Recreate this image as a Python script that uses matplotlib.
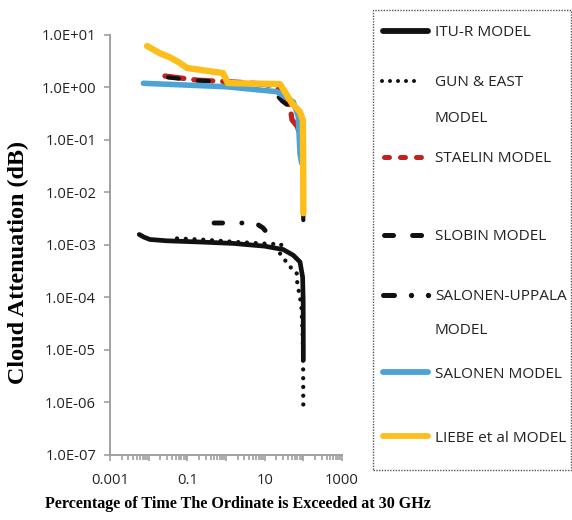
import matplotlib.pyplot as plt
from matplotlib.lines import Line2D
from matplotlib.patches import Rectangle
from matplotlib.ticker import FixedLocator, LogLocator, NullFormatter

plt.rcParams["lines.scale_dashes"] = False

W, H = 572, 520

# -- data: percentage of time (%) vs cloud attenuation (dB) -------------------
itu_x = [0.0057, 0.0075, 0.0108, 0.029, 0.2, 1.55, 10, 30.3, 55, 82, 96, 99, 99.8, 100]
itu_y = [1.57e-3, 1.4e-3, 1.26e-3, 1.19e-3, 1.13e-3, 1.06e-3, 9.4e-4, 8.1e-4,
         6.3e-4, 4.7e-4, 2.4e-4, 8.8e-5, 2e-5, 6.3e-6]

gun_x = [0.054, 0.3, 1.5, 10, 27, 25, 45, 67, 70, 82, 90, 97, 99, 100]
gun_y = [1.32e-3, 1.24e-3, 1.14e-3, 1.05e-3, 1.02e-3, 6.8e-4, 3.8e-4, 3.0e-4,
         1.8e-4, 1.0e-4, 6.0e-5, 1.5e-5, 4e-6, 6.8e-7]

staelin_x = [0.0264, 0.175, 3.43, 20, 28, 45, 51, 70, 90, 100]
staelin_y = [1.65, 1.38, 1.23, 1.1, 0.65, 0.45, 0.24, 0.18, 0.1, 0.05]

slobin_x = [0.0316, 0.2, 3.5, 20, 23, 28, 40, 60, 85, 97, 100]
slobin_y = [1.55, 1.35, 1.22, 1.05, 0.65, 0.55, 0.45, 0.3, 0.2, 0.05, 0.0025]

su_x = [0.49, 1.0, 3.0, 6.0, 9.0, 11.1]
su_y = [2.6e-3, 2.6e-3, 2.6e-3, 2.55e-3, 2.1e-3, 1.75e-3]

salonen_x = [0.0073, 1.04, 20.5, 55, 74, 82, 90.6]
salonen_y = [1.2, 1.03, 0.83, 0.53, 0.28, 0.055, 0.036]

liebe_x = [0.0091, 0.0196, 0.0357, 0.0646, 0.098, 0.835, 1.12, 24.9, 33.5,
           50.9, 81.9, 97, 99, 100]
liebe_y = [6.17, 4.48, 3.75, 2.92, 2.35, 1.88, 1.21, 1.16, 0.82,
           0.5, 0.34, 0.24, 0.05, 0.004]

x_labels = {0.001: "0.001", 0.1: "0.1", 10: "10", 1000: "1000"}
y_ticks = [10.0 ** k for k in range(-7, 2)]

BLACK = "#111111"
RED = "#C0231E"
BLUE = "#4DA3D5"
GOLD = "#FDBE1C"
GRAY = "#A0A0A0"
TXT = "Open Sans"

fig = plt.figure(figsize=(W / 100, H / 100), dpi=100)
ax = fig.add_axes([110 / W, 1 - 454.5 / H, (342 - 110) / W, (454.5 - 35) / H])

ax.plot(itu_x, itu_y, color=BLACK, lw=3.4, solid_capstyle="round")
ax.plot(gun_x, gun_y, color=BLACK, lw=3.1, linestyle=(0, (0.01, 6.3)),
        dash_capstyle="round")
ax.plot(staelin_x, staelin_y, color=RED, lw=3.8, linestyle=(0, (13.7, 7.2)),
        dash_capstyle="round")
ax.plot(slobin_x, slobin_y, color=BLACK, lw=3.0, linestyle=(0, (7.9, 13.7)),
        dash_capstyle="round")
ax.plot(su_x, su_y, color=BLACK, lw=3.5, linestyle=(0, (6.2, 13.8, 0.1, 12.3)),
        dash_capstyle="round")
ax.plot(salonen_x, salonen_y, color=BLUE, lw=4.0, solid_capstyle="round")
ax.plot(liebe_x, liebe_y, color=GOLD, lw=4.6, solid_capstyle="round",
        solid_joinstyle="round")

ax.set_xscale("log")
ax.set_yscale("log")
ax.set_xlim(0.001, 1000)
ax.set_ylim(1e-7, 10)

ax.xaxis.set_major_locator(FixedLocator([10.0 ** k for k in range(-3, 4)]))
ax.xaxis.set_minor_locator(LogLocator(base=10, subs=range(2, 10)))
ax.xaxis.set_minor_formatter(NullFormatter())
ax.set_xticklabels([x_labels.get(v, "") for v in ax.get_xticks()])
ax.set_yticks(y_ticks)
ax.yaxis.set_minor_locator(FixedLocator([]))
ax.set_yticklabels(["%.1E" % v for v in y_ticks])

for side in ["top", "right"]:
    ax.spines[side].set_visible(False)
for side in ["left", "bottom"]:
    ax.spines[side].set_color(GRAY)
    ax.spines[side].set_linewidth(1.4)
ax.tick_params(which="both", color=GRAY, width=1.2, direction="out")
ax.tick_params(axis="x", which="major", length=4, pad=9)
ax.tick_params(axis="x", which="minor", length=3.5)
ax.tick_params(axis="y", length=4, pad=6)
for lab in ax.get_xticklabels() + ax.get_yticklabels():
    lab.set_family(TXT)
    lab.set_fontsize(10.6)
    lab.set_color("#222222")

fig.text(18 / W, 1 - 262 / H, "Cloud Attenuation (dB)", rotation=90,
         family="Liberation Serif", weight="bold", fontsize=17.4,
         ha="center", va="center")
fig.text(45 / W, 1 - 504 / H, "Percentage of Time The Ordinate is Exceeded at 30 GHz",
         family="Liberation Serif", weight="bold", fontsize=11.65,
         ha="left", va="center")

# -- legend, drawn by hand in figure pixels -----------------------------------
fig.patches.append(Rectangle((373 / W, 1 - 470 / H), (570.5 - 373) / W, 460 / H,
                             transform=fig.transFigure, fill=False,
                             ec="#555555", lw=1.0, ls=(0, (1, 1))))


def handle(x0, x1, y, **kw):
    fig.lines.append(Line2D([x0 / W, x1 / W], [1 - y / H, 1 - y / H],
                            transform=fig.transFigure, **kw))


def label(y, text):
    fig.text(435 / W, 1 - (y + 2) / H, text, family=TXT, fontsize=11.1,
             color="#222222", ha="left", va="center")


handle(383, 428, 31, color=BLACK, lw=4.2, solid_capstyle="round")
label(31, "ITU-R MODEL")
handle(381.7, 421.8, 81, color=BLACK, lw=2.9, ls=(0, (0.01, 5.75)),
       dash_capstyle="round")
label(81, "GUN & EAST")
label(116, "MODEL")
handle(383.5, 420.5, 157, color=RED, lw=3.6, ls=(0, (3.6, 7.9)),
       dash_capstyle="round")
label(157, "STAELIN MODEL")
handle(383.5, 422.5, 235, color=BLACK, lw=3.6, ls=(0, (6.5, 13.7)),
       dash_capstyle="round")
label(235, "SLOBIN MODEL")
handle(383, 393.5, 295, color=BLACK, lw=3.6, solid_capstyle="round")
handle(411, 428, 295, color=BLACK, lw=0, marker="o", ms=3.8, mew=0)
label(295, "SALONEN-UPPALA")
label(329, "MODEL")
handle(383, 428, 372, color=BLUE, lw=4.2, solid_capstyle="round")
label(372, "SALONEN MODEL")
handle(383, 428, 436, color=GOLD, lw=4.2, solid_capstyle="round")
label(436, "LIEBE et al MODEL")

fig.savefig("out.png", dpi=100)
